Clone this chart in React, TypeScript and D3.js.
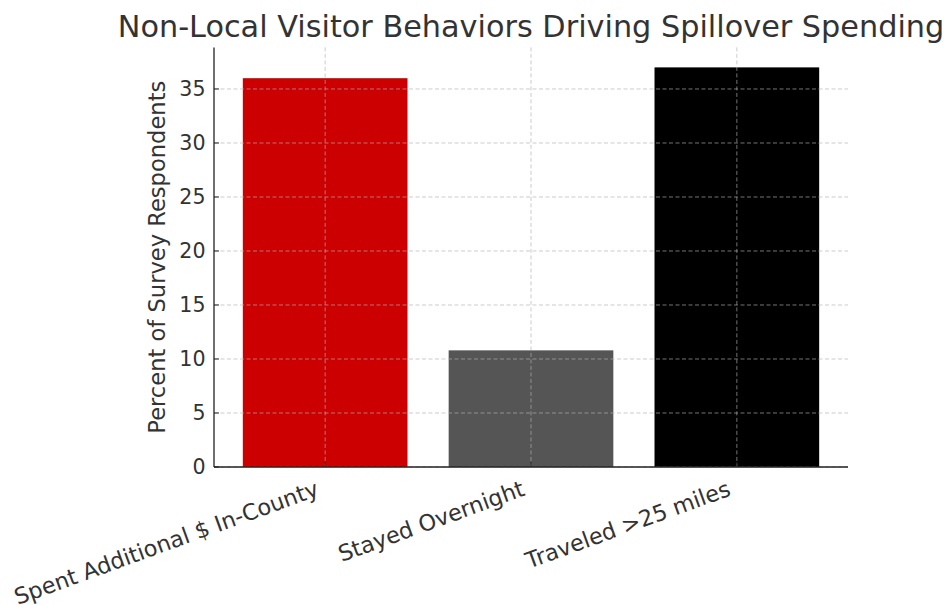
import React from "react";
import * as d3 from "d3";

const categories = ["Spent Additional $ In-County", "Stayed Overnight", "Traveled >25 miles"];
const values = [36, 10.8, 37];
const barColors = ["#cc0000", "#555555", "#000000"];
const yTicks = [0, 5, 10, 15, 20, 25, 30, 35];
const title = "Non-Local Visitor Behaviors Driving Spillover Spending";
const yLabel = "Percent of Survey Respondents";

const W = 946, H = 605;
const left = 214, right = 848, top = 47.4, bottom = 467;
const font = "'DejaVu Sans', sans-serif";
const textColor = "#333333";

export default function App() {
  const x = d3.scaleLinear().domain([-0.54, 2.54]).range([left, right]);
  const y = d3.scaleLinear().domain([0, 37 * 1.05]).range([bottom, top]);
  const bw = x(0.4) - x(0);
  return (
    <svg width={W} height={H} style={{ position: "absolute", left: 0, top: 0, background: "#fff" }}>
      {values.map((v, i) => (
        <rect key={i} x={x(i) - bw} y={y(v)} width={bw * 2} height={bottom - y(v)} fill={barColors[i]} />
      ))}
      {yTicks.map((t) => (
        <line key={"gy" + t} x1={left} x2={right} y1={y(t)} y2={y(t)} stroke="#b0b0b0" strokeOpacity={0.65} strokeWidth={1} strokeDasharray="4,2.5" />
      ))}
      {categories.map((c, i) => (
        <line key={"gx" + i} x1={x(i)} x2={x(i)} y1={top} y2={bottom} stroke="#b0b0b0" strokeOpacity={0.65} strokeWidth={1} strokeDasharray="4,2.5" />
      ))}
      {yTicks.map((t) => (
        <g key={"ty" + t}>
          <line x1={left} x2={left + 5} y1={y(t)} y2={y(t)} stroke="#222" strokeWidth={1} />
          <text x={205.5} y={y(t)} dy="0.36em" textAnchor="end" fontFamily={font} fontSize={20.6} fill={textColor}>{t}</text>
        </g>
      ))}
      {categories.map((c, i) => (
        <g key={"tx" + i}>
          <line x1={x(i)} x2={x(i)} y1={bottom} y2={bottom - 5} stroke="#222" strokeWidth={1} />
          <text transform={`translate(${x(i) - 5},${495}) rotate(-20)`} textAnchor="end" fontFamily={font} fontSize={22.4} fill={textColor}>{c}</text>
        </g>
      ))}
      <line x1={left} x2={left} y1={top} y2={bottom} stroke="#222" strokeWidth={1.3} />
      <line x1={left} x2={right} y1={bottom} y2={bottom} stroke="#222" strokeWidth={1.3} />
      <text transform={`translate(165,${(top + bottom) / 2}) rotate(-90)`} textAnchor="middle" fontFamily={font} fontSize={22.6} fill={textColor}>{yLabel}</text>
      <text x={(left + right) / 2} y={37} textAnchor="middle" fontFamily={font} fontSize={30.3} fill={textColor}>{title}</text>
    </svg>
  );
}
